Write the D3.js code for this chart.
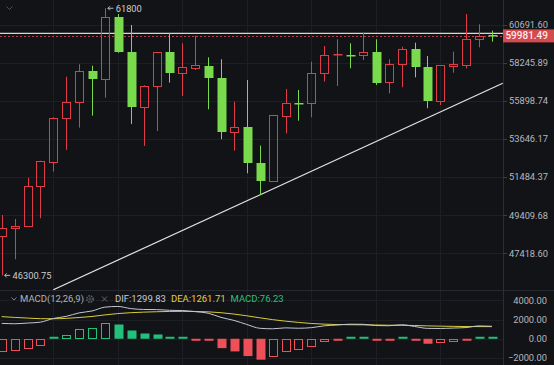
<!DOCTYPE html>
<html><head><meta charset="utf-8">
<script src="https://cdn.jsdelivr.net/npm/d3@7"></script>
<style>
html,body{margin:0;padding:0;background:#121316;overflow:hidden}
svg{display:block}
text{font-family:Roboto,"Noto Sans",sans-serif}
</style></head><body>
<svg id="c" width="554" height="365"></svg>
<script>
// ---- data ----
const candleIndex = d3.range(39);
const opens  = [48332,48735,48857,50999,52356,54872,55847,57749,57233,61199,58966,55564,56838,58927,57605,57955,58081,57332,54065,54376,52300,51293,55008,55790,55768,57605,58737,58770,58756,58966,57048,58169,59119,57980,55925,58062,58106,59761,60040];
const highs  = [49425,49212,51459,52410,54930,57394,58169,58081,61800,61417,60692,56860,58950,60150,59503,59994,58610,58484,55865,57190,53271,55070,56636,56575,58332,59330,59761,59503,60188,59761,58484,59285,59542,58692,58120,58966,61417,60738,60319];
const lows   = [46300.75,47115,48820,49249,51794,53024,54317,55026,56106,58900,54535,53254,54124,57023,56210,57811,55408,53641,52984,51704,50506,51270,53989,54730,54931,57085,56820,57917,58439,56881,56373,56740,57357,55468,55666,57642,57917,59246,59606];
const closes = [48751,48857,50999,52396,54907,55847,57749,57233,61199,58927,55564,56838,58927,57605,57980,58106,57295,54048,54358,52266,51293,55050,55804,55768,57605,58737,58819,58756,58966,57023,58169,59138,57980,55925,58106,58169,59761,59974,59981.49];
const macdDif  = [1605,1562,1632,1727,2110,2328,2692,2890,3288,3361,3140,3045,3033,2959,2933,2820,2660,2223,1912,1488,1092,1036,1135,1094,1155,1344,1430,1515,1505,1375,1355,1455,1280,1081,1070,1114,1166,1335,1299.83];
const macdDea  = [2300,2220,2150,2090,2080,2120,2210,2320,2480,2620,2710,2770,2810,2840,2850,2840,2800,2710,2570,2390,2180,1990,1830,1700,1590,1520,1480,1460,1450,1430,1410,1400,1380,1340,1310,1290,1270,1265,1261.71];
const macdHist = [-1389,-1316,-1036,-725,60,415,964,1140,1617,1482,860,549,446,238,166,-100,-280,-974,-1316,-1803,-2176,-1907,-1389,-1212,-870,-352,-100,130,130,-120,-120,130,-200,-518,-480,-352,-207,150,76.23];
const priceTicks = [60691.60,58245.89,55898.74,53646.17,51484.37,49409.68,47418.60];
const macdTicks = [4000,2000,0,-2000];
const gridIndex = [4,9,14,19,24,29,34];
const lastPrice = 59981.49;
const hLinePrice = 60150;
const trendPoints = [{i:4.0,p:45586},{i:38.84,p:56986}];
const highMark = {i:8,p:61800,label:"61800"};
const lowMark = {i:0,p:46300.75,label:"46300.75"};
const macdTitle = "MACD(12,26,9)";
const macdLegend = [{t:"DIF:1299.83",c:"#c8ccd2"},{t:"DEA:1261.71",c:"#e2d23c"},{t:"MACD:76.23",c:"#27c180"}];

// ---- layout ----
const W=554,H=365, plotR=503, mainB=290;
const UP="#e03c48", DOWN="#78da4c", HUP="#23c07c", HDN="#ef4f59";
const svg=d3.select("#c");
svg.append("rect").attr("width",W).attr("height",H).attr("fill","#121316");

const x=d3.scaleLinear().domain([0,38]).range([1.7,491.9]);
const y=d3.scaleLog().domain([60691.60,47418.60]).range([25,253.3]);
const ym=d3.scaleLinear().domain([4000,-2000]).range([300.3,358]);

svg.append("clipPath").attr("id","mc").append("rect").attr("x",0).attr("y",0).attr("width",plotR).attr("height",mainB);

// grid
const g=svg.append("g").attr("stroke","#1d1f24").attr("stroke-width",1);
gridIndex.forEach(i=>g.append("line").attr("x1",Math.round(x(i))+0.5).attr("x2",Math.round(x(i))+0.5).attr("y1",0).attr("y2",H));
priceTicks.forEach(p=>g.append("line").attr("x1",0).attr("x2",plotR).attr("y1",Math.round(y(p))+0.5).attr("y2",Math.round(y(p))+0.5));
macdTicks.forEach(v=>g.append("line").attr("x1",0).attr("x2",plotR).attr("y1",Math.round(ym(v))+0.5).attr("y2",Math.round(ym(v))+0.5));
// pane separator and axis border
svg.append("line").attr("x1",0).attr("x2",W).attr("y1",mainB+0.5).attr("y2",mainB+0.5).attr("stroke","#26292f");
svg.append("line").attr("x1",plotR+0.5).attr("x2",plotR+0.5).attr("y1",0).attr("y2",H).attr("stroke","#2a2d33");

const main=svg.append("g").attr("clip-path","url(#mc)");
// horizontal drawn line and last-price line
main.append("line").attr("x1",0).attr("x2",plotR).attr("y1",y(hLinePrice)).attr("y2",y(hLinePrice)).attr("stroke","#d6d6d8").attr("stroke-width",1.2);
main.append("line").attr("x1",0).attr("x2",plotR).attr("y1",Math.round(y(lastPrice))+0.5).attr("y2",Math.round(y(lastPrice))+0.5)
  .attr("stroke","#b8434a").attr("stroke-dasharray","2,2");
// trend line
main.append("path").attr("d",d3.line().x(d=>x(d.i)).y(d=>y(d.p))(trendPoints)).attr("stroke","#e2e2e4").attr("stroke-width",1.2).attr("fill","none");

// candles
candleIndex.forEach(i=>{
  const o=opens[i],c=closes[i],h=highs[i],l=lows[i];
  const cx=Math.round(x(i));
  const up=c>=o;
  const top=Math.round(y(Math.max(o,c))), bot=Math.round(y(Math.min(o,c)));
  const col=up?UP:DOWN;
  if(up && bot-top>=2){
    main.append("line").attr("x1",cx+0.5).attr("x2",cx+0.5).attr("y1",y(h)).attr("y2",top).attr("stroke",col);
    main.append("line").attr("x1",cx+0.5).attr("x2",cx+0.5).attr("y1",bot+1).attr("y2",y(l)).attr("stroke",col);
    main.append("rect").attr("x",cx-3.5).attr("y",top+0.5).attr("width",8).attr("height",bot-top).attr("fill","none").attr("stroke",col);
  } else {
    main.append("line").attr("x1",cx+0.5).attr("x2",cx+0.5).attr("y1",y(h)).attr("y2",y(l)).attr("stroke",col);
    main.append("rect").attr("x",cx-3.5).attr("y",top).attr("width",9).attr("height",Math.max(1.5,bot-top)).attr("fill",col);
  }
});

// high/low markers
function marker(m){
  const cx=x(m.i), yy=y(m.p);
  svg.append("path").attr("d",`M${cx+3},${yy} L${cx+8.5},${yy} M${cx+5},${yy-2} L${cx+3},${yy} L${cx+5},${yy+2}`)
    .attr("stroke","#c9ccd1").attr("fill","none").attr("stroke-width",0.9);
  svg.append("text").attr("x",cx+10.8).attr("y",yy).attr("dy","0.35em").attr("font-size",9.3).attr("fill","#c9ccd1").text(m.label);
}
marker(highMark); marker(lowMark);

// top-left chevron
svg.append("path").attr("d","M6.5,6.5 L9.5,9.5 L12.5,6.5").attr("stroke","#4f535a").attr("fill","none");

// price axis
priceTicks.forEach(p=>{
  const yy=y(p);
  svg.append("line").attr("x1",plotR).attr("x2",plotR+4).attr("y1",Math.round(yy)+0.5).attr("y2",Math.round(yy)+0.5).attr("stroke","#3a3d44");
  svg.append("text").attr("x",548).attr("y",yy).attr("dy","0.35em").attr("text-anchor","end").attr("font-size",9.3).attr("fill","#b4b8bf").text(d3.format(".2f")(p));
});
// last price label
svg.append("rect").attr("x",plotR).attr("y",y(lastPrice)-6.5).attr("width",W-plotR).attr("height",13).attr("fill","#d64a4e");
svg.append("text").attr("x",548).attr("y",y(lastPrice)).attr("dy","0.36em").attr("text-anchor","end").attr("font-size",10).attr("font-weight",500).attr("fill","#fbe9e9").text(d3.format(".2f")(lastPrice));

// MACD axis
macdTicks.forEach(v=>{
  svg.append("text").attr("x",547).attr("y",ym(v)).attr("dy","0.35em").attr("text-anchor","end").attr("font-size",9.3).attr("fill","#b4b8bf").text(d3.format(".2f")(v));
});

// MACD histogram
const z=ym(0);
candleIndex.forEach(i=>{
  const v=macdHist[i], prev=i>0?macdHist[i-1]:-Infinity;
  const cx=Math.round(x(i));
  const col=v>=0?HUP:HDN;
  const hollow=v>=prev;
  const yv=ym(v);
  const hpx=Math.abs(yv-z);
  if(hpx<3){
    svg.append("rect").attr("x",cx-3.5).attr("y",v>=0?z-2:z).attr("width",9).attr("height",2).attr("fill",col);
  } else if(hollow){
    const t=Math.round(Math.min(yv,z)), b=Math.round(Math.max(yv,z));
    svg.append("rect").attr("x",cx-3.5).attr("y",t+0.5).attr("width",8).attr("height",b-t-1).attr("fill","none").attr("stroke",col);
  } else {
    svg.append("rect").attr("x",cx-3.5).attr("y",Math.min(yv,z)).attr("width",9).attr("height",hpx).attr("fill",col);
  }
});
// MACD lines
svg.append("path").attr("d",d3.line().x((d,i)=>x(i)).y(d=>ym(d)).curve(d3.curveMonotoneX)(macdDea)).attr("fill","none").attr("stroke","#d9cc3a").attr("stroke-width",1);
svg.append("path").attr("d",d3.line().x((d,i)=>x(i)).y(d=>ym(d)).curve(d3.curveMonotoneX)(macdDif)).attr("fill","none").attr("stroke","#c3c6d4").attr("stroke-width",1);

// MACD header
const hy=299;
svg.append("path").attr("d",`M11.5,${hy-1.5} L14,${hy+1} L16.5,${hy-1.5}`).attr("stroke","#7d828a").attr("fill","none");
svg.append("text").attr("x",20).attr("y",hy).attr("dy","0.35em").attr("font-size",9.5).attr("fill","#aeb3bb").text(macdTitle);
svg.append("circle").attr("cx",90).attr("cy",hy).attr("r",3.2).attr("fill","none").attr("stroke","#5b5f66").attr("stroke-width",1.6).attr("stroke-dasharray","1.6,1");
svg.append("circle").attr("cx",90).attr("cy",hy).attr("r",1.2).attr("fill","none").attr("stroke","#5b5f66").attr("stroke-width",0.8);
svg.append("path").attr("d",`M102,${hy-2.5} L107,${hy+2.5} M107,${hy-2.5} L102,${hy+2.5}`).attr("stroke","#62666d").attr("stroke-width",1);
let lx=115;
macdLegend.forEach(d=>{
  const t=svg.append("text").attr("x",lx).attr("y",hy).attr("dy","0.35em").attr("font-size",9.5).attr("fill",d.c).text(d.t);
  lx+=t.node().getComputedTextLength()+5;
});
</script>
</body></html>
